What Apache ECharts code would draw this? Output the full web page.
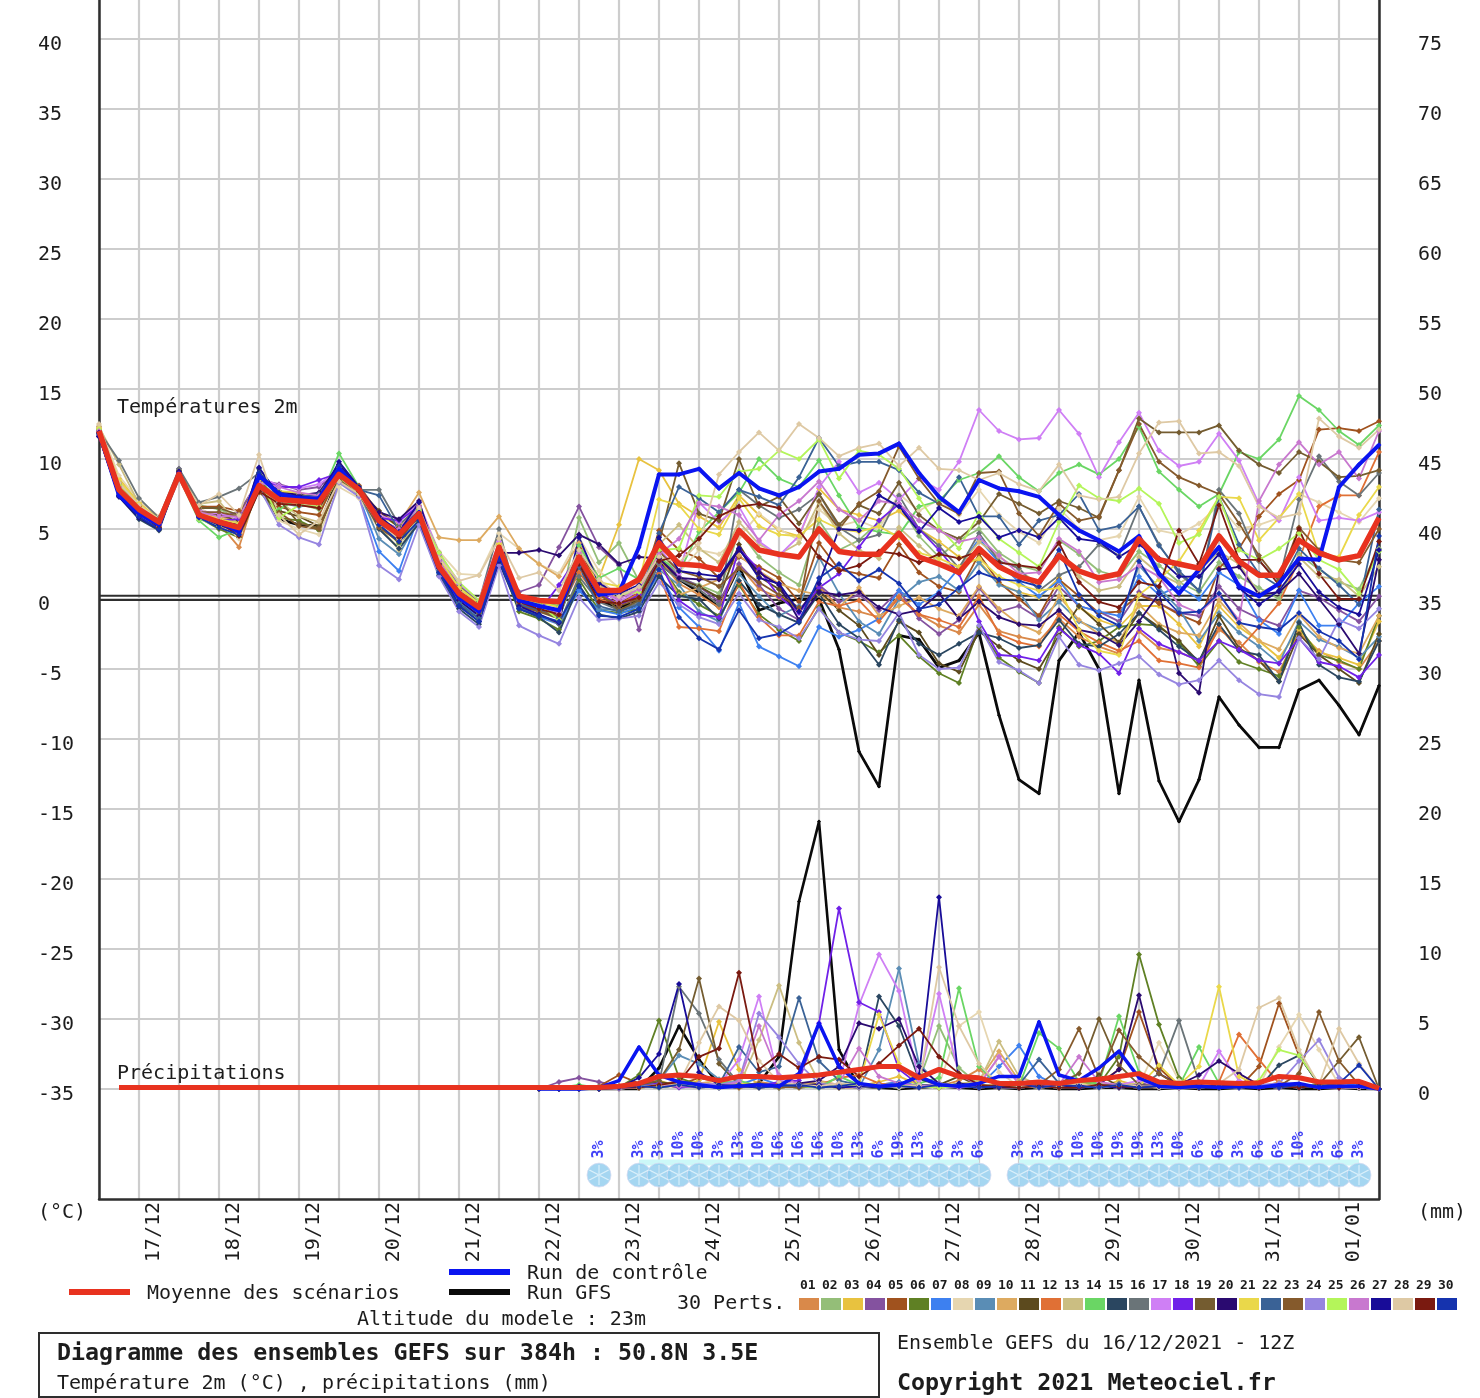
<!DOCTYPE html>
<html><head><meta charset="utf-8">
<style>html,body{margin:0;padding:0;background:#fff}#c{width:1480px;height:1398px;filter:blur(.45px)}</style>
<script src="https://cdn.jsdelivr.net/npm/echarts@6/dist/echarts.min.js"></script>
</head><body><div id="c"></div>
<script>
const dateLabels = {2:'17/12',6:'18/12',10:'19/12',14:'20/12',18:'21/12',22:'22/12',26:'23/12',30:'24/12',34:'25/12',38:'26/12',42:'27/12',46:'28/12',50:'29/12',54:'30/12',58:'31/12',62:'01/01'};
const tempTicks = [-35,-30,-25,-20,-15,-10,-5,0,5,10,15,20,25,30,35,40];
const rainTicks = [0,5,10,15,20,25,30,35,40,45,50,55,60,65,70,75];
const palette = ['#D9894A','#94BE78','#E8C23F','#84529F','#A0521E','#5F8024','#3D80F0','#E6D6B0','#5A8DB5','#DDAA60','#5C4A1E','#E07035','#CBBE82','#6AD664','#2A4660','#6A7478','#CF7FF5','#7020E8','#745C30','#2A0A70','#EAD84A','#3A6296','#855A2C','#9685E0','#B4F55A','#C878CF','#180C98','#DEC9A4','#7A1A10','#1533AE'];

// 2 m temperature, one value every 6 h from 16/12 12Z
const t01=[12.1,7.9,6.2,5.3,9.0,6.2,5.4,3.7,8.3,6.9,7.1,7.0,9.1,7.7,5.2,4.2,6.4,2.6,0.5,-0.4,3.9, -0.4,-0.7,-1.1,2.8,0.2,-0.3,0.1,2.9,1.1,0.3,-0.6,2.4,0.7,0.1,-0.8,0.9,-0.6,-0.9,-1.3,0.2,-1.1,-1.9,-2.4, -0.4,-2.3,-2.7,-3.0,-1.4,-2.7,-3.4,-3.9,-2.3,-3.5,-3.8,-4.4,-2.2,-3.1,-4.5,-5.2,-2.4,-3.7,-4.5,-5.0,-3.0];
const t02=[11.8,8.2,6.5,5.6,8.8,6.7,6.4,5.9,7.9,7.3,6.8,6.4,8.6,7.6,5.9,3.9,5.8,2.1,0.1,-1.0,3.1, 0.0,-0.4,-0.8,5.8,2.6,4.0,1.3,3.6,1.5,1.0,0.4,4.9,3.0,1.9,1.0,5.6,3.5,4.2,5.5,6.8,4.5,3.0,4.2, 5.0,3.3,2.4,2.0,4.2,3.2,2.0,1.6,3.4,2.4,1.2,0.5,2.6,1.6,0.8,0.0,3.2,2.1,1.2,0.7,3.6];
const t03=[12.2,8.6,6.9,5.7,9.1,6.1,5.8,5.3,8.8,7.6,7.5,7.2,8.7,8.0,6.0,5.2,6.7,3.0,0.9,-0.3,4.0, 0.3,-0.2,-0.5,2.8,1.5,5.3,10.0,9.2,6.8,5.9,5.1,7.4,6.0,4.9,4.5,7.9,6.4,6.0,5.6,6.3,5.0,4.1,3.0, 2.7,1.1,0.5,0.1,1.5,-0.6,-1.5,-2.0,-0.5,-0.5,-1.8,-3.4,-0.5,-2.0,-3.0,-4.2,-2.2,-3.8,-4.2,-4.7,-1.6];
const t04=[11.6,7.6,6.0,5.2,9.3,6.4,5.9,6.2,8.5,8.2,7.8,8.0,9.2,7.5,5.7,5.0,6.5,2.7,0.2,-0.9,3.3, 0.5,1.0,3.7,6.6,3.7,2.4,-2.2,3.0,1.6,0.9,-0.2,2.5,1.0,-0.7,-1.5,1.0,-0.2,0.3,-0.8,0.6,-1.4,-2.5,-1.5, 0.8,-0.9,-0.5,-1.4,0.9,-0.5,-0.9,-1.6,0.5,-0.3,-1.0,-1.2,0.9,-0.7,-1.4,-1.9,0.6,0.1,-0.8,-1.6,0.2];
const t05=[12.3,8.0,6.6,5.8,8.7,6.6,6.6,6.3,7.6,6.6,6.2,6.0,9.0,8.1,6.1,4.5,5.9,2.4,0.8,-0.2,3.7, -0.3,-0.6,-1.0,3.6,0.9,0.4,0.3,4.9,3.5,2.9,1.5,3.0,2.3,1.5,-0.2,4.0,2.1,1.8,1.5,3.9,1.9,0.9,0.5, 3.2,1.2,0.0,-1.2,1.4,0.2,-1.0,-0.9,0.3,-0.3,-1.1,-1.7,2.2,3.6,5.9,7.5,8.5,12.1,12.2,12.0,12.7];
const t06=[12.0,7.4,6.1,5.0,9.2,5.8,5.0,4.4,7.8,5.8,5.6,4.9,8.5,7.4,5.3,4.0,5.5,1.9,-0.4,-1.4,2.9, -0.9,-1.4,-2.2,1.4,-0.8,-1.0,-0.7,2.6,0.5,-0.4,-1.2,1.0,-1.1,-2.2,-3.0,-0.6,-2.4,-3.0,-3.8,-2.6,-4.1,-5.3,-6.0, -2.0,-4.2,-5.2,-6.0,-2.0,-3.4,-3.0,-2.0,-1.8,-1.9,-3.1,-4.8,-3.0,-4.5,-5.0,-5.5,-2.0,-4.0,-4.4,-5.0,-1.2];
const t07=[11.9,7.8,6.3,5.4,8.9,6.0,5.7,5.4,8.2,7.4,7.2,7.1,8.8,7.3,3.4,2.0,6.0,1.8,-0.3,-1.2,3.2, -0.6,-1.3,-1.8,0.6,-0.8,-1.1,-0.5,1.8,-0.6,-2.0,-3.7,-0.3,-3.4,-4.1,-4.8,-2.0,-2.7,-2.2,-1.4,0.6,-0.4,0.5,2.2, 4.3,2.6,1.2,0.2,1.3,-0.5,-0.9,-1.2,1.6,0.3,0.9,0.0,1.9,1.0,-1.5,-2.5,0.6,-1.9,-1.9,-0.3,0.9];
const t08=[12.4,8.8,7.0,5.9,9.0,6.5,5.8,4.3,8.6,5.6,5.0,4.6,8.0,7.2,5.0,3.7,6.8,3.4,1.8,1.7,4.7, 3.6,2.5,1.8,4.4,2.0,0.8,0.6,3.4,1.9,3.5,3.2,4.4,6.1,5.0,4.2,6.4,5.2,5.6,5.0,7.5,6.3,7.1,6.0, 7.8,6.0,4.8,4.0,6.5,5.0,4.2,4.5,7.3,4.9,4.6,5.4,6.7,5.0,5.3,5.8,7.5,6.9,6.2,5.5,7.2];
const t09=[11.7,7.5,5.8,5.1,8.6,5.9,5.6,5.2,8.0,6.9,6.6,6.8,9.1,7.7,4.3,3.2,5.7,2.0,-0.2,-1.1,3.0, -0.3,-0.7,-1.0,2.8,-0.7,-0.8,-0.3,2.1,1.0,-0.9,-1.6,1.8,0.2,-1.2,-0.5,3.0,0.4,-1.6,-2.5,0.0,1.2,1.6,0.6, 2.6,1.0,0.5,-1.5,-0.2,-1.6,-2.2,-1.8,2.4,0.8,-0.7,-3.0,-1.0,-2.4,-3.4,-4.6,-1.6,-2.9,-3.4,-4.2,-2.7];
const t10=[12.2,8.1,6.4,5.5,9.1,6.3,5.9,5.5,8.4,7.2,7.0,7.3,8.9,7.9,6.2,5.4,7.6,4.4,4.2,4.2,5.9, 3.6,2.5,1.6,4.0,1.5,-0.2,0.3,2.5,0.3,0.8,1.4,3.1,2.0,1.1,0.6,0.3,-0.6,0.8,-1.2,-0.5,0.1,-0.7,-1.2, 0.9,-0.7,-1.8,-2.4,0.2,-1.5,-2.5,-3.1,-0.4,-1.8,-2.4,-2.6,-0.1,-1.7,-3.0,-3.6,-1.1,-2.7,-3.5,-3.9,-1.2];
const t11=[11.9,7.7,6.2,5.4,9.2,6.1,6.0,5.6,7.7,6.3,5.9,5.2,8.7,7.8,6.3,5.1,6.2,2.5,0.6,-0.5,3.6, -0.2,-0.7,-0.9,2.4,0.7,-0.2,0.3,3.0,1.4,0.9,0.1,3.9,1.6,0.7,-0.9,0.6,-0.8,-1.9,-4.0,-1.6,-2.4,-4.6,-5.2, -2.3,-3.4,-4.4,-5.0,-2.6,-0.5,-1.8,-3.1,-1.0,-2.0,-3.0,-4.5,-1.2,-3.5,-4.4,-5.9,-2.5,-4.0,-5.0,-6.0,-2.5];
const t12=[12.0,7.9,6.6,5.2,8.8,6.2,5.5,4.7,8.1,6.8,6.9,6.7,9.0,7.6,5.5,4.3,6.3,2.4,0.3,-0.7,3.4, -0.3,-0.4,-0.9,1.9,0.0,-0.4,0.4,1.8,-2.0,-2.1,-2.3,1.2,-1.3,-2.6,-2.6,-0.2,-0.5,-0.1,-1.6,0.1,-1.1,-1.5,-2.0, 0.2,-2.5,-3.1,-3.4,-1.1,-2.3,-3.1,-3.7,-3.0,-4.4,-4.6,-4.9,-2.0,-3.6,-2.0,-0.3,2.8,6.6,7.4,7.4,10.5];
const t13=[12.3,9.6,6.8,5.6,9.1,6.8,7.0,5.2,8.3,7.0,5.9,5.5,8.3,7.5,5.2,3.5,5.9,2.6,0.7,-0.3,3.8, 0.1,-0.5,-0.8,2.7,0.9,0.4,0.6,3.9,5.3,3.6,2.6,5.5,3.9,3.2,4.0,6.9,4.7,3.5,2.9,5.1,3.8,2.6,2.3, 4.1,3.0,2.1,1.0,3.2,1.6,0.6,0.9,3.0,1.8,1.1,2.0,3.4,2.5,0.4,1.1,3.0,1.6,1.4,0.2,2.3];
const t14=[11.8,7.6,6.0,5.3,8.7,5.6,4.4,5.0,8.9,6.4,7.2,7.0,10.4,8.0,5.8,4.8,6.4,3.1,0.9,-0.4,3.5, 0.1,-0.3,-0.5,3.8,1.5,2.2,1.4,3.0,1.9,4.8,6.2,7.6,10.0,8.6,8.0,9.9,7.4,5.1,4.8,4.6,6.6,7.0,8.5, 9.0,10.2,8.7,7.7,9.0,9.6,8.9,10.0,12.3,9.1,7.8,6.6,7.5,10.5,10.0,11.4,14.5,13.5,12.0,11.0,12.4];
const t15=[11.7,7.3,5.7,4.9,8.9,6.0,5.3,4.9,9.3,7.5,7.4,7.1,9.6,7.9,5.0,3.6,5.4,1.7,-0.7,-1.8,2.6, -0.7,-1.3,-2.4,1.0,-1.1,-1.4,-0.9,1.6,0.2,0.0,-1.4,1.3,-0.4,-1.1,-1.7,0.4,-1.8,-2.8,-4.7,-1.5,-3.2,-4.0,-3.2, -2.4,-2.8,-3.5,-3.3,-1.5,-3.2,-3.4,-2.5,-1.0,-2.2,-3.4,-4.4,-1.8,-3.7,-4.0,-5.9,-1.7,-4.7,-5.6,-5.9,-3.0];
const t16=[12.0,9.9,7.2,5.8,9.3,6.9,7.3,7.9,9.0,7.6,7.5,7.4,8.9,7.8,7.8,5.3,6.6,3.3,1.0,-0.2,5.0, -0.6,-1.1,-1.8,1.6,-0.2,-0.8,-0.3,2.5,1.4,0.7,-0.4,7.8,6.7,5.8,6.4,7.5,5.1,4.2,4.6,7.4,5.0,3.8,2.2, 4.7,2.7,2.2,0.6,1.7,2.3,3.9,3.1,6.6,3.9,1.8,0.6,7.8,6.1,2.7,1.3,7.1,10.2,8.4,7.4,9.0];
const t17=[12.1,8.0,6.3,5.4,9.0,6.3,6.1,5.8,8.7,8.1,7.9,8.2,9.2,7.9,6.0,5.5,6.9,3.2,1.1,-0.1,4.1, -0.2,-0.6,-0.9,2.9,0.7,-0.2,0.6,3.7,1.8,6.9,5.5,6.6,4.1,3.1,4.5,8.0,9.8,7.6,8.3,7.1,8.6,7.8,9.8, 13.5,12.0,11.4,11.5,13.5,11.8,8.7,11.2,13.3,10.6,9.5,9.8,11.8,9.9,6.8,5.6,8.7,5.6,5.8,5.6,6.2];
const t18=[11.9,7.7,6.1,5.3,8.8,6.1,5.6,5.7,8.6,8.0,8.0,8.5,9.0,7.8,5.8,5.6,6.6,2.8,0.4,-0.8,3.5, -0.1,-0.9,1.0,3.2,0.5,-0.5,0.3,2.7,-0.1,-1.1,-1.3,3.6,2.1,0.2,-1.0,0.8,1.8,3.7,5.6,6.8,5.0,3.5,1.8, -1.6,-4.0,-4.1,-4.4,-2.1,-3.3,-3.9,-5.3,-2.1,-3.2,-3.8,-4.4,-3.0,-3.6,-4.4,-4.6,-2.8,-4.5,-4.8,-5.6,-4.0];
const t19=[12.1,8.3,6.7,5.6,9.1,6.5,6.5,6.0,8.4,7.1,5.4,5.1,8.4,7.7,5.7,4.6,6.0,2.3,0.2,-1.0,3.2, -0.4,-0.9,-1.4,3.1,0.4,-0.8,-0.1,4.0,9.7,6.1,5.6,10.0,6.6,7.3,5.4,7.5,5.3,6.7,6.1,8.3,6.0,4.9,4.3, 5.5,7.5,6.8,6.1,7.0,6.5,5.8,9.2,12.9,11.9,11.9,11.9,12.4,10.6,9.6,9.0,10.5,9.8,8.7,8.8,9.2];
const t20=[11.6,7.4,5.9,5.0,9.0,6.0,5.6,5.3,8.9,7.7,7.4,7.6,9.6,7.9,6.2,5.7,7.0,2.5,-0.1,-1.2,3.3, 3.3,3.5,3.1,4.6,3.9,2.5,3.0,2.9,1.5,1.4,1.4,3.5,1.9,1.0,-1.5,0.5,0.3,0.5,-0.6,-1.1,-0.8,0.4,-1.4, -0.2,-1.3,-1.8,-1.9,-0.8,-2.2,-2.5,-3.3,-1.6,0.4,-5.3,-6.7,2.1,2.3,0.3,0.5,1.8,0.0,-1.8,-3.9,2.8];
const t21=[12.2,8.5,6.8,5.7,8.9,6.2,5.7,5.4,8.5,7.7,7.6,7.3,8.7,7.8,5.5,4.7,6.2,2.9,0.8,-0.3,3.9, 0.2,-0.2,-0.6,3.0,1.2,0.9,1.2,7.1,6.7,5.0,4.6,7.2,5.2,4.6,4.5,5.7,5.0,4.8,5.2,4.4,3.3,2.9,2.3, 2.9,1.6,1.0,0.6,0.8,-2.2,-3.7,-4.0,0.3,1.4,2.7,4.9,7.3,7.2,4.2,5.8,7.5,3.2,3.0,6.0,8.0];
const t22=[11.8,7.5,5.9,5.1,8.7,5.9,5.4,5.0,8.8,7.3,7.3,7.5,9.4,7.8,7.4,4.9,5.7,2.0,-0.3,-1.4,3.0, -0.4,-0.8,-1.3,2.3,-0.5,-0.9,-0.4,4.7,8.0,7.2,6.2,7.8,7.3,6.7,8.7,11.5,9.5,9.8,9.8,9.2,7.6,6.8,8.7, 5.9,5.9,3.9,5.6,6.0,7.5,4.9,5.2,6.6,3.8,2.0,0.6,7.3,3.9,1.8,0.9,3.6,2.2,1.0,-0.4,6.4];
const t23=[12.0,7.8,6.2,5.4,9.0,6.2,6.2,5.9,8.1,6.2,5.2,5.0,8.5,7.5,5.1,4.1,6.1,2.2,0.1,-0.9,3.2, -0.5,-0.9,-1.2,2.6,0.3,-0.5,0.0,3.4,2.0,1.6,0.9,2.2,1.2,0.3,-0.6,7.0,5.0,6.8,7.7,10.9,8.6,6.8,6.1, 9.0,9.1,6.1,4.5,6.8,5.6,5.9,9.2,12.5,9.8,8.7,8.1,7.5,5.4,3.1,1.3,5.1,3.5,2.8,2.6,5.0];
const t24=[11.7,7.5,5.9,5.1,8.8,5.9,5.5,5.2,8.0,5.3,4.4,3.9,8.3,7.3,2.4,1.4,5.3,1.6,-0.9,-2.0,2.4, -1.9,-2.6,-3.2,0.1,-1.5,-1.4,-1.2,1.2,-0.4,-1.3,-1.8,0.4,-1.5,-2.0,-2.8,-0.7,-2.4,-2.9,-3.0,-1.0,-4.0,-5.0,-4.9, -1.9,-4.5,-5.1,-6.0,-2.7,-4.7,-5.1,-4.6,-4.1,-5.4,-6.1,-5.8,-4.4,-5.8,-6.8,-7.0,-2.8,-4.3,-1.5,-2.1,-0.7];
const t25=[12.1,8.1,6.5,5.6,8.9,5.7,5.2,5.1,8.6,5.8,6.7,6.6,8.7,7.6,5.4,4.6,6.3,3.3,1.2,-0.1,3.7, 0.3,-0.4,-1.5,3.2,0.7,0.3,0.5,3.5,3.6,7.4,7.3,9.1,9.3,10.6,10.0,11.4,8.6,10.6,10.3,9.3,7.2,5.1,3.6, 6.1,4.3,3.3,2.3,5.5,8.1,7.2,7.0,7.9,6.8,4.0,4.6,7.3,3.5,2.8,3.6,4.7,2.8,2.1,0.4,3.4];
const t26=[12.0,7.9,6.3,5.4,9.0,6.2,5.9,5.9,8.3,8.0,7.6,7.4,9.0,7.7,5.6,5.0,6.6,2.7,0.5,-0.6,3.6, -0.1,-0.5,-1.0,3.3,0.6,0.0,0.7,3.2,4.3,6.8,6.6,6.0,4.2,6.0,7.0,8.4,6.4,5.6,7.0,6.8,5.6,4.9,4.1, 4.4,3.1,1.8,1.9,4.3,3.4,1.2,1.4,2.4,1.6,-0.4,-1.0,0.3,-1.5,7.0,9.6,11.2,9.6,10.5,8.6,12.0];
const t27=[11.6,7.3,5.8,5.0,9.1,5.9,5.3,4.8,9.4,7.4,7.3,7.2,9.8,8.0,5.9,4.8,6.9,2.2,-0.5,-1.6,2.7, -0.5,-1.1,-1.7,4.4,1.1,0.4,1.0,4.4,2.0,1.8,1.6,3.6,1.5,1.1,-0.9,1.1,5.0,4.9,7.4,6.6,4.8,6.5,5.5, 5.9,4.4,4.9,4.4,5.8,4.3,4.1,3.0,3.9,2.9,1.6,1.6,3.2,0.8,-0.4,0.6,2.5,0.5,-0.6,-1.1,3.5];
const t28=[12.5,8.3,6.7,5.7,8.9,6.7,7.5,6.0,10.3,6.0,4.6,5.6,8.4,7.5,5.4,4.3,6.5,2.9,1.3,1.7,4.3, 1.5,1.9,0.6,3.5,1.4,0.2,0.9,3.0,2.6,4.0,8.9,10.5,11.9,10.6,12.5,11.5,10.2,10.8,11.1,9.5,10.8,9.3,9.2, 8.5,9.0,8.2,7.7,9.6,7.4,7.1,7.3,10.4,12.6,12.7,10.4,10.5,9.5,6.6,5.8,6.1,12.9,11.6,10.8,12.1];
const t29=[11.9,7.7,6.1,5.1,9.0,6.0,5.5,4.5,7.7,6.8,6.7,6.5,8.9,7.7,5.7,4.4,5.9,2.3,0.3,-0.8,3.4, -0.2,-0.7,-1.1,2.5,-0.2,-0.3,0.1,2.7,3.1,4.3,5.9,6.6,6.8,6.5,4.9,3.0,2.0,2.4,3.4,3.2,2.6,3.2,2.9, 3.4,2.6,2.4,2.2,4.0,1.2,-0.2,-0.6,1.2,0.9,4.9,2.5,6.7,2.8,2.8,1.0,5.0,1.8,0.0,0.0,4.1];
const t30=[11.8,7.4,5.9,5.0,8.9,5.8,5.1,4.6,9.0,7.6,7.2,7.1,9.5,7.8,5.3,4.1,5.6,1.9,-0.5,-1.6,2.8, -0.7,-1.2,-1.6,0.9,-1.2,-1.3,-0.7,2.1,-1.3,-2.8,-3.6,-0.8,-2.8,-2.5,-1.6,1.5,2.5,1.3,2.1,1.1,-0.7,-0.4,0.8, 1.9,1.4,1.3,0.9,3.5,0.3,-1.2,-1.9,2.7,0.5,-1.0,-0.9,0.4,-1.7,-2.0,-2.2,-1.0,-2.3,-3.0,-4.3,4.5];
const tempControl=[11.9,7.4,6.1,5.3,9.0,5.9,5.5,4.8,8.8,7.5,7.2,7.2,9.3,7.8,5.5,4.7,6.2,2.2,0.1,-0.9,3.4, -0.1,-0.5,-0.8,3.0,0.3,0.5,3.7,8.9,8.9,9.3,7.9,9.0,7.9,7.4,8.0,9.1,9.3,10.3,10.4,11.1,9.0,7.3,6.2, 8.5,7.9,7.7,7.3,6.0,4.9,4.2,3.4,4.5,1.8,0.4,2.1,3.7,0.9,0.2,1.1,2.9,2.8,8.0,9.6,11.0];
const tempGfs=[12.0,7.6,6.2,5.4,9.0,6.0,5.6,5.0,8.3,5.7,5.3,5.2,8.8,7.7,5.6,4.6,6.0,2.2,0.2,-0.8,3.5, -0.2,-0.6,-0.9,3.0,-0.1,-0.6,-0.1,2.6,1.4,0.5,-0.6,2.3,-0.8,-0.3,0.0,0.0,-3.6,-10.9,-13.4,-2.6,-2.9,-4.9,-4.4, -2.4,-8.3,-12.9,-13.9,-4.4,-2.4,-5.0,-13.9,-5.8,-13.0,-15.9,-12.9,-7.0,-9.0,-10.6,-10.6,-6.5,-5.8,-7.6,-9.7,-6.2];
const tempMean=[12.0,7.8,6.4,5.5,8.9,6.0,5.5,5.1,8.1,7.1,7.0,6.9,8.9,7.8,5.6,4.6,6.1,2.3,0.4,-0.6,3.7, 0.2,-0.1,-0.2,3.0,0.6,0.6,1.4,4.0,2.5,2.4,2.1,4.9,3.5,3.2,3.0,5.0,3.4,3.2,3.2,4.7,3.0,2.5,1.9, 3.6,2.3,1.6,1.2,3.1,2.0,1.5,1.8,4.3,2.8,2.5,2.2,4.5,2.7,1.7,1.7,4.2,3.3,2.8,3.1,5.8];

// precipitation (mm) from 22/12 00Z (index 22) to the end; nothing drawn before it except the mean
const noRain=[null,null,null,null,null,null,null,null,null,null,null,null,null,null,null,null,null,null,null,null,null];
const r01=[0,0,0,0,.1,.2,.3,.6,.4,.3,.1,.5,.3,.4,.2,.1,.1,.3,.5,.2,.2,.6,1.4,.4,.2,.3,.1,.2,.4,.2,.1,.2,.1,.1,.3,.2,.1,.5,.2,.1,.3,.1,0];
const r02=[0,0,.1,.2,.1,.3,.5,.2,.1,.2,.4,.1,.2,.1,.3,.2,.1,.2,.3,.6,4.5,1.5,.3,.2,.1,.2,.1,.4,.3,.2,.1,.2,.1,.1,.3,.2,.1,.3,.1,.2,.1,.2,0];
const r03=[0,0,0,.1,.2,.3,.6,.2,.6,4.8,1.4,.3,.1,.2,.3,.1,.2,.5,.9,.3,.1,.2,.1,.4,.2,.1,.2,.3,.1,.6,.2,.1,.1,.2,.1,.3,.2,.4,.2,.1,.1,.1,0];
const r04=[0,.5,.8,.5,.2,.1,.2,.4,.2,.1,.3,.1,.2,.1,.2,.3,.1,.2,.1,.2,.1,.3,.1,.2,.1,.2,.1,.1,.3,.2,.1,.1,.2,.1,.2,.1,.3,.1,.2,.1,.1,.1,0];
const r05=[0,0,0,.2,1,.4,.2,.3,.8,.5,.2,.1,.4,.2,.3,.1,.2,.1,.4,.2,.1,.3,.2,.1,.2,.3,.1,.5,.4,1.4,5.5,1.5,.2,.1,.2,.1,1.6,6.1,2.4,.3,.1,.2,0];
const r06=[0,0,0,.1,.1,1,4.9,.8,.3,.2,.1,.3,.2,.1,.2,.1,.3,.2,.1,.2,.3,.1,.2,.1,.1,.3,.2,.4,.3,2.3,9.6,4.6,.8,.2,.1,.2,.1,.3,.2,.1,.2,.1,0];
const r07=[0,0,0,0,.1,.2,.4,.1,.2,.1,.3,.8,.3,.2,.4,.1,.2,.3,.5,.2,.1,.3,.2,1.6,3.1,.9,.2,.1,.2,.1,.2,.3,.1,.1,.2,.1,.2,.3,.1,.4,.2,.4,0];
const r08=[0,0,.1,0,.1,.1,.3,.2,.4,.2,.1,.3,.2,.4,.2,.1,.2,.3,.1,.2,.3,4.5,5.5,1.2,.2,.3,.1,.2,.4,.2,.3,3.3,.6,.2,.1,.3,.2,3,5.3,2.8,.3,.1,0];
const r09=[0,0,0,.1,.1,.3,.6,2.4,1.8,.7,.2,.4,.1,.3,.2,.2,.1,2.8,8.6,1.8,.3,.1,.2,.1,.1,.3,.2,.1,.2,.1,.4,.2,.1,.2,.1,.1,.2,.1,.2,.3,.1,.3,0];
const r10=[0,0,0,.1,0,.2,.3,.1,.4,.6,.3,.2,.1,.2,.6,.3,.2,.1,.4,.2,.1,.3,.6,2.7,.6,.2,.1,.3,.2,.1,.4,.2,.1,.1,.3,.2,.1,.4,.2,.1,.1,.2,0];
const r11=[0,0,0,0,.1,.2,.5,.3,.2,.1,.3,.1,.2,.3,.1,.2,.4,.1,.2,.1,.3,.9,.2,.1,.2,.3,.1,.2,1,.2,.1,.1,.2,.1,.1,.3,.2,.1,.3,.1,.2,.1,0];
const r12=[0,0,0,.1,.2,.1,.2,.4,.2,.3,.1,.2,.4,.1,.3,.8,1,.4,.2,.3,.1,.2,.1,.2,.1,.2,.1,.3,.2,.1,.2,.3,.1,.1,.5,3.9,2.1,.4,.2,.1,.1,.2,0];
const r13=[0,0,0,0,.1,.1,.3,.2,.3,.4,.2,3.5,7.4,3.3,.5,.2,.1,.2,.3,.1,.2,.4,.5,3.4,.9,.3,.1,.2,.1,.2,.4,.1,.2,.1,.2,.3,.1,.2,.1,.3,.1,.1,0];
const r14=[0,.1,.3,.1,.2,.1,.2,.3,.1,.4,.6,.2,.1,.3,.1,.9,.3,.2,.1,.4,.8,7.2,1.6,.3,.2,4,2.9,.5,.4,5.2,1.2,.3,.2,3,.4,.2,.1,.3,.1,.4,.2,.1,0];
const r15=[0,0,0,0,.1,.2,.1,.3,.2,.1,.3,.2,.1,.2,.1,.2,.3,6.6,4.5,.7,.3,.2,.1,.3,.1,.2,.1,.1,.3,.1,.2,.1,.2,.3,.1,.2,.1,1.7,2.4,.3,.1,.1,0];
const r16=[0,0,0,0,.1,.3,.4,7.3,5.4,2.1,.4,.2,.1,.2,.3,.1,.2,.1,.2,.3,.1,.4,.2,.1,.1,.2,.1,.3,.2,.4,.1,1.1,4.9,.5,.2,.1,.2,.3,.1,.2,.1,.1,0];
const r17=[0,0,0,.1,.1,.2,.3,.2,.4,.3,2.1,6.6,.6,.3,.2,.4,6,9.6,7,.6,6.8,1,.3,2.3,.4,.2,.4,.2,.1,.3,.6,.2,.1,.2,2.7,.6,.2,.1,.3,.2,.1,.2,0];
const r18=[0,0,0,0,.1,.2,.4,.1,.2,.1,.3,.2,.5,.6,4.7,12.9,6.2,5.5,1.4,.3,.2,.1,.2,.1,.3,.1,.2,.1,.2,.1,.3,.2,.1,.2,.1,.3,.1,.2,.1,.2,.3,.1,0];
const r19=[0,0,0,.1,.2,.3,.6,2.8,7.9,1.8,.3,.4,.2,.1,.3,.2,.1,.3,.1,.2,.4,.2,.1,.2,.1,.2,.4,1.1,5,1.7,.3,.2,.1,.1,.3,.2,.1,.2,.1,.3,2,3.7,0];
const r20=[0,.1,.2,.1,.1,.2,.3,.4,.2,.1,.3,.2,.1,.4,.6,1.6,4.7,4.3,5,1.6,.4,.2,.1,.3,.1,.2,.4,.1,.3,1.4,6.7,1.1,.3,1,2,1.1,.3,.1,.2,.1,.2,.1,0];
const r21=[0,0,0,0,.1,.1,.2,.3,.1,.2,.4,.2,.1,.3,.2,.1,.4,5.3,1.8,.3,.1,.2,.3,.1,.1,.2,.1,.4,.2,.1,.2,1.7,.3,1.6,7.3,.9,.2,.1,.3,.1,.2,.1,0];
const r22=[0,0,0,.1,.1,.2,.3,.4,.2,.3,3,1.2,1.6,6.5,2,.6,.3,.2,.1,.3,.2,.3,.1,.2,.3,2.1,.4,.2,.1,.3,.1,.2,.4,.1,.2,.3,.1,.2,.1,.2,.3,.1,0];
const r23=[0,0,0,0,.1,.2,.1,.3,.4,.2,.1,.3,.1,.2,.4,.1,.2,.3,.2,.1,.3,.2,.1,.2,.4,.3,1.4,4.3,.8,4.2,2.3,1.1,.2,.1,.3,.2,.1,.2,1.1,5.5,2,.3,0];
const r24=[0,0,.1,.1,0,.2,.3,.2,.4,.3,.6,5.4,3.7,1.8,.4,.2,.1,.3,.2,.1,.4,.2,.1,.3,.2,.1,.3,.2,.1,.2,.1,.3,.2,.1,.2,.1,.3,.4,2,3.5,.8,.4,0];
const r25=[0,0,0,.1,.1,.2,.1,.3,.2,.1,.2,.1,.3,.2,.1,.4,.2,.1,.3,.2,.1,.2,.3,.1,.2,.1,.2,.4,.1,.3,.2,.1,.1,.2,.1,.3,.6,2.8,2.4,.4,.2,.1,0];
const r26=[0,0,0,0,.1,.1,.3,.2,.1,.2,.5,4.5,1,.3,.2,.4,2.9,.9,.4,.2,.3,.1,.3,2.3,.3,.2,.3,2.3,.5,.3,.2,.1,.1,.2,.3,.1,.2,.1,.3,.2,.1,.1,0];
const r27=[0,0,0,.1,.1,.8,2.5,7.5,1.2,.3,.2,.1,.3,.2,.3,.1,.2,.1,.3,1,13.7,.4,.2,.1,.1,.2,.1,.3,.2,.1,.2,.1,.1,.3,.1,.2,.1,.2,.3,.1,.1,.2,0];
const r28=[0,0,0,.1,.2,.1,.3,.4,3.3,5.9,4.9,2,.5,.3,.2,.4,.3,.2,.1,.3,8.7,4.5,1.8,.3,.2,.1,.2,.4,.1,.3,.2,.1,.1,.2,.4,1.4,5.8,6.5,2.8,.3,4.3,1.8,0];
const r29=[0,0,0,0,.1,.1,.3,.5,2.3,2.9,8.3,1.4,2.5,1.5,2.3,2.1,.9,1.8,3.1,4.3,2.3,1.1,.3,.2,.1,.2,.1,.1,.3,.2,.1,.2,.3,.1,.3,.2,.1,.2,.1,.3,.1,.2,0];
const r30=[0,0,0,0,.1,.2,.1,.3,.1,.2,.3,.1,.2,.3,.1,.2,.4,.1,.2,.1,.3,.2,.1,.2,.4,.1,.3,.2,.1,.3,.1,.2,.3,.1,.2,.1,.2,.1,.3,.2,.4,1.7,0];
const rainControl=[0,0,0,.1,.6,3,1,.5,.3,.1,.2,.3,.2,1.1,4.7,1.6,.4,.2,.3,.9,.3,.2,.4,.9,.9,4.8,1,.6,1.5,2.7,.8,.2,.1,.2,.1,.2,.1,.3,.4,.1,.2,.2,0];
const rainGfs=[0,0,0,0,0,0,1.5,4.5,2.1,.3,.1,.4,2.3,13.4,19.1,2.8,.2,.1,0,.1,.2,.1,0,.1,0,.1,0,0,.1,.1,0,0,.1,0,0,.1,0,.1,0,0,.1,0,0];
const rainMean=[.1,.1,.1,.1,.2,.4,.9,1,.9,.6,.9,.9,.8,.9,1,1.2,1.4,1.6,1.6,.8,1.4,.9,.8,.4,.4,.5,.4,.6,.7,.9,1.1,.5,.4,.5,.45,.4,.45,.9,.8,.5,.5,.55,.05];
const rainMeanDry=[.1,.1,.1,.1,.1,.1,.1,.1,.1,.1,.1,.1,.1,.1,.1,.1,.1,.1,.1,.1,.1];

// snow probability (%) by time index
const snowIndex=[25,27,28,29,30,31,32,33,34,35,36,37,38,39,40,41,42,43,44,46,47,48,49,50,51,52,53,54,55,56,57,58,59,60,61,62,63];
const snowPct=[3,3,3,10,10,3,13,10,16,16,16,10,13,6,19,13,6,3,6,3,3,6,10,10,19,19,13,10,6,6,3,6,6,10,3,6,3];

const tempPerts=[t01,t02,t03,t04,t05,t06,t07,t08,t09,t10,t11,t12,t13,t14,t15,t16,t17,t18,t19,t20,t21,t22,t23,t24,t25,t26,t27,t28,t29,t30];
const rainPerts=[r01,r02,r03,r04,r05,r06,r07,r08,r09,r10,r11,r12,r13,r14,r15,r16,r17,r18,r19,r20,r21,r22,r23,r24,r25,r26,r27,r28,r29,r30];
[...tempPerts,tempControl,tempGfs,tempMean].forEach((a,k)=>{if(a.length!==65)throw new Error('temp row '+k+' has '+a.length)});
[...rainPerts,rainControl,rainGfs,rainMean].forEach((a,k)=>{if(a.length!==43)throw new Error('rain row '+k+' has '+a.length)});

const times=Array.from({length:65},(_,i)=>String(i));
const full=(a,pad)=>[null,...pad,...a];
const MONO='"DejaVu Sans Mono",monospace';
const BLACK='#2e2e2e';
const series=[];
const line=(name,data,axis,color,width,size,z)=>series.push({name,type:'line',data,yAxisIndex:axis,z,silent:true,animation:false,showSymbol:size>0,showAllSymbol:true,symbol:'diamond',symbolSize:size,connectNulls:false,
  lineStyle:{color,width,join:'round'},itemStyle:{color}});
const zeroA=times.map(()=>0.24), zeroB=times.map(()=>-0.08);
line('zeroA',zeroA,0,BLACK,2,0,1); line('zeroB',zeroB,0,BLACK,2,0,1);
line('Run GFS',tempGfs,0,'#0a0a0a',2.8,4,2);
line('Run GFS mm',full(rainGfs,noRain),1,'#0a0a0a',2.6,4,2);
tempPerts.forEach((a,k)=>line('t'+k,a,0,palette[k],1.8,6,2));
rainPerts.forEach((a,k)=>line('r'+k,full(a,noRain),1,palette[k],1.8,6,2));
line('Run de contrôle',tempControl,0,'#0a14f0',4,5,3);
line('Run de contrôle mm',full(rainControl,noRain),1,'#0a14f0',3.5,4,3);
line('Moyenne des scénarios',tempMean,0,'#E8321F',5.5,0,5);
line('Moyenne mm',full(rainMean,rainMeanDry),1,'#E8321F',5,0,5);

const snowLevel=-41.15, bandLevel=-40.25;
const bandData=times.map((_,i)=>snowIndex.includes(i)&&i!==25?bandLevel:null);
series.push({type:'line',data:bandData,yAxisIndex:0,symbol:'none',silent:true,animation:false,z:1,lineStyle:{color:'#ccf8f8',width:6}});
series.push({type:'scatter',yAxisIndex:0,silent:true,animation:false,z:2,symbol:'circle',symbolSize:24,
  itemStyle:{color:'#8fccee',borderColor:'#d7dcf2',borderWidth:1},
  data:snowIndex.map((x,k)=>[x,snowLevel,snowPct[k]]),
  label:{show:true,position:'top',distance:4,rotate:90,align:'left',verticalAlign:'middle',color:'#1212f5',fontFamily:MONO,fontWeight:'bold',fontSize:15,formatter:p=>p.data[2]+'%'}});
series.push({type:'scatter',yAxisIndex:0,silent:true,animation:false,z:3,
  symbol:'path://M9.5 0H10.5V20H9.5ZM1 5.52L18.4 15.52L19 14.48L1.6 4.48ZM1 14.48L18.4 4.48L19 5.52L1.6 15.52Z',symbolSize:20,
  itemStyle:{color:'#e8f6fc'},data:snowIndex.map(x=>[x,snowLevel])});

const txt=(x,y,text,opt={})=>({type:'text',z:20,silent:true,x,y:y+2,style:{text,font:(opt.bold?'bold ':'')+(opt.size||20)+'px '+MONO,fill:opt.color||'#1c1c1c',textVerticalAlign:'middle',textAlign:'left'}});
const bar=(x,y,w,h,fill)=>({type:'rect',z:20,silent:true,shape:{x,y,width:w,height:h},style:{fill}});
const graphic=[
 txt(117,406,'Températures 2m'),txt(117,1072,'Précipitations'),
 txt(38,1211,'(°C)'),txt(1418,1211,'(mm)'),
 bar(69,1289,61,6,'#E8321F'),txt(147,1292,'Moyenne des scénarios'),
 bar(449,1269,61,6,'#0a14f0'),txt(527,1272,'Run de contrôle'),
 bar(449,1289,61,6,'#0a0a0a'),txt(527,1292,'Run GFS'),
 txt(677,1302,'30 Perts.'),txt(357,1318,'Altitude du modele : 23m'),
 {type:'rect',z:19,silent:true,shape:{x:39,y:1333,width:840,height:64},style:{fill:'#fff',stroke:BLACK,lineWidth:2}},
 txt(57,1352,'Diagramme des ensembles GEFS sur 384h : 50.8N 3.5E',{bold:true,size:23.3}),
 txt(57,1382,'Température 2m (°C) , précipitations (mm)'),
 txt(897,1342,'Ensemble GEFS du 16/12/2021 - 12Z'),
 txt(897,1382,'Copyright 2021 Meteociel.fr',{bold:true,size:23.3})
];
palette.forEach((c,k)=>{
  graphic.push(bar(799+22*k,1298,20,12,c));
  graphic.push(txt(800+22*k,1284,String(k+1).padStart(2,'0'),{bold:true,size:13}));
});

const grid={left:99,width:1280,top:0,height:1199};
const yBase={type:'value',scale:true,
  axisLine:{show:true,onZero:false,lineStyle:{color:BLACK,width:2.5}},
  splitLine:{show:false}};
const option={animation:false,backgroundColor:'#fff',grid,graphic,
 xAxis:{type:'category',boundaryGap:false,data:times,
   axisLine:{onZero:false,lineStyle:{color:BLACK,width:2.5}},
   axisTick:{show:false,interval:i=>i%2===0},
   splitLine:{show:true,interval:i=>i%2===0,lineStyle:{color:'#cdcdcd',width:2.2}},
   axisLabel:{show:true,interval:i=>dateLabels[i]!==undefined,rotate:90,margin:3,verticalAlign:'top',padding:[5,0,0,0],fontFamily:MONO,fontSize:20,color:'#1c1c1c',formatter:v=>dateLabels[v]||''}},
 yAxis:[
  {...yBase,min:-42.857,max:42.786,position:'left',
   axisTick:{show:false,customValues:tempTicks},
   splitLine:{show:true,lineStyle:{color:'#cdcdcd',width:2.2}},
   axisLabel:{customValues:tempTicks,align:'left',verticalAlign:'top',lineHeight:12,margin:61,fontFamily:MONO,fontSize:20,color:'#1c1c1c'}},
  {...yBase,min:-7.857,max:77.786,position:'right',
   axisTick:{show:false,customValues:rainTicks},
   axisLabel:{customValues:rainTicks,align:'left',verticalAlign:'top',lineHeight:12,margin:39,fontFamily:MONO,fontSize:20,color:'#1c1c1c'}}
 ],
 series};
echarts.init(document.getElementById('c'),null,{renderer:'canvas'}).setOption(option);
</script></body></html>
